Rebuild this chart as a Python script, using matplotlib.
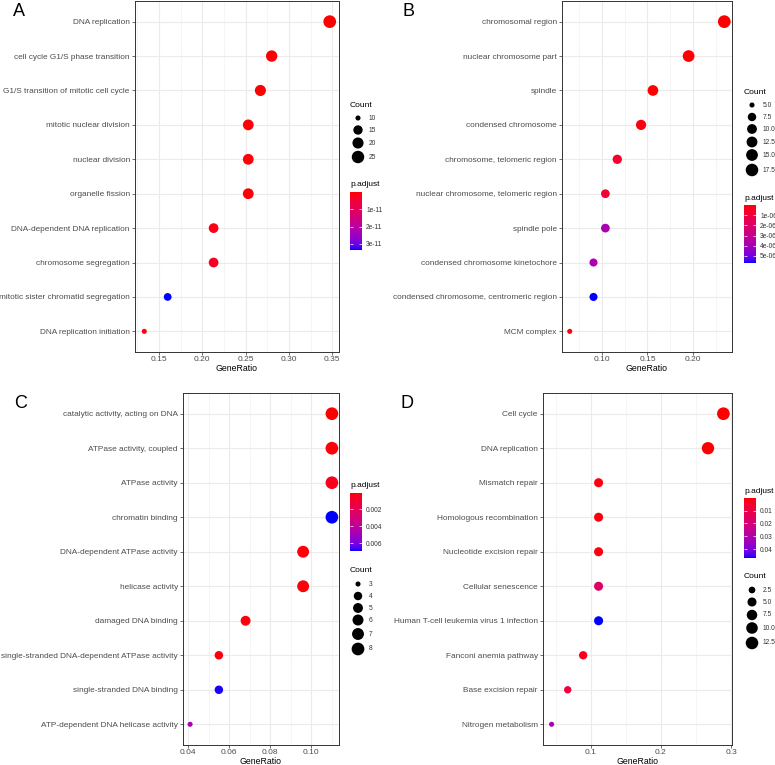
import numpy as np
import matplotlib
matplotlib.use("Agg")
import matplotlib.pyplot as plt
from matplotlib.colors import LinearSegmentedColormap, to_rgb
from matplotlib.ticker import AutoMinorLocator

plt.rcParams['font.family'] = ['Liberation Sans', 'DejaVu Sans']

# ---- données (de haut en bas) ----
a_terms = ["DNA replication", "cell cycle G1/S phase transition",
           "G1/S transition of mitotic cell cycle", "mitotic nuclear division",
           "nuclear division", "organelle fission", "DNA-dependent DNA replication",
           "chromosome segregation", "mitotic sister chromatid segregation",
           "DNA replication initiation"]
a_ratio = [0.347, 0.280, 0.267, 0.253, 0.253, 0.253, 0.213, 0.213, 0.160, 0.133]
a_count = [26, 21, 20, 19, 19, 19, 16, 16, 12, 10]
a_padj = [1e-14, 1.5e-13, 2e-13, 5e-13, 5e-13, 5e-13, 1.2e-12, 2.8e-12, 3.35e-11, 8e-13]

b_terms = ["chromosomal region", "nuclear chromosome part", "spindle",
           "condensed chromosome", "chromosome, telomeric region",
           "nuclear chromosome, telomeric region", "spindle pole",
           "condensed chromosome kinetochore",
           "condensed chromosome, centromeric region", "MCM complex"]
b_ratio = [0.234, 0.195, 0.156, 0.143, 0.117, 0.104, 0.104, 0.091, 0.091, 0.065]
b_count = [18, 15, 12, 11, 9, 8, 8, 7, 7, 5]
b_padj = [1e-10, 5e-10, 1e-8, 2e-7, 6e-7, 8e-7, 3.9e-6, 3.8e-6, 5.7e-6, 1e-7]

c_terms = ["catalytic activity, acting on DNA", "ATPase activity, coupled",
           "ATPase activity", "chromatin binding", "DNA-dependent ATPase activity",
           "helicase activity", "damaged DNA binding",
           "single-stranded DNA-dependent ATPase activity",
           "single-stranded DNA binding", "ATP-dependent DNA helicase activity"]
c_ratio = [0.110, 0.110, 0.110, 0.110, 0.096, 0.096, 0.068, 0.055, 0.055, 0.041]
c_count = [8, 8, 8, 8, 7, 7, 5, 4, 4, 3]
c_padj = [0.00012, 0.0002, 0.0005, 0.0069, 0.0002, 0.0002, 0.0003, 0.0003, 0.0068, 0.0048]

d_terms = ["Cell cycle", "DNA replication", "Mismatch repair",
           "Homologous recombination", "Nucleotide excision repair",
           "Cellular senescence", "Human T-cell leukemia virus 1 infection",
           "Fanconi anemia pathway", "Base excision repair", "Nitrogen metabolism"]
d_ratio = [0.289, 0.267, 0.111, 0.111, 0.111, 0.111, 0.111, 0.089, 0.067, 0.044]
d_count = [13, 12, 5, 5, 5, 5, 5, 4, 3, 2]
d_padj = [0.0001, 0.0003, 0.0012, 0.0012, 0.0012, 0.016, 0.047, 0.003, 0.008, 0.033]

# graduations
a_xticks = [0.15, 0.20, 0.25, 0.30, 0.35]
b_xticks = [0.10, 0.15, 0.20]
c_xticks = [0.04, 0.06, 0.08, 0.10]
d_xticks = [0.1, 0.2, 0.3]
a_xlabels = ["0.15", "0.20", "0.25", "0.30", "0.35"]
b_xlabels = ["0.10", "0.15", "0.20"]
c_xlabels = ["0.04", "0.06", "0.08", "0.10"]
d_xlabels = ["0.1", "0.2", "0.3"]

a_pticks, a_plabels = [1e-11, 2e-11, 3e-11], ["1e-11", "2e-11", "3e-11"]
b_pticks, b_plabels = [1e-6, 2e-6, 3e-6, 4e-6, 5e-6], ["1e-06", "2e-06", "3e-06", "4e-06", "5e-06"]
c_pticks, c_plabels = [0.002, 0.004, 0.006], ["0.002", "0.004", "0.006"]
d_pticks, d_plabels = [0.01, 0.02, 0.03, 0.04], ["0.01", "0.02", "0.03", "0.04"]

a_cbreaks, a_clabels = [10, 15, 20, 25], ["10", "15", "20", "25"]
b_cbreaks, b_clabels = [5, 7.5, 10, 12.5, 15, 17.5], ["5.0", "7.5", "10.0", "12.5", "15.0", "17.5"]
c_cbreaks, c_clabels = [3, 4, 5, 6, 7, 8], ["3", "4", "5", "6", "7", "8"]
d_cbreaks, d_clabels = [2.5, 5, 7.5, 10, 12.5], ["2.5", "5.0", "7.5", "10.0", "12.5"]

# ---- dégradé rouge -> bleu interpolé en Lab (comme ggplot) ----
M = np.array([[0.4124, 0.3576, 0.1805], [0.2126, 0.7152, 0.0722], [0.0193, 0.1192, 0.9505]])
WHITE = np.array([0.95047, 1.0, 1.08883])

def to_lab(c):
    rgb = np.array(to_rgb(c))
    lin = np.where(rgb <= 0.04045, rgb / 12.92, ((rgb + 0.055) / 1.055) ** 2.4)
    xyz = M @ lin / WHITE
    f = np.where(xyz > 0.008856, np.cbrt(xyz), 7.787 * xyz + 16 / 116)
    return np.array([116 * f[1] - 16, 500 * (f[0] - f[1]), 200 * (f[1] - f[2])])

def from_lab(lab):
    fy = (lab[0] + 16) / 116
    f = np.array([fy + lab[1] / 500, fy, fy - lab[2] / 200])
    xyz = np.where(f ** 3 > 0.008856, f ** 3, (f - 16 / 116) / 7.787) * WHITE
    lin = np.clip(np.linalg.solve(M, xyz), 0, 1)
    return np.clip(np.where(lin <= 0.0031308, 12.92 * lin, 1.055 * lin ** (1 / 2.4) - 0.055), 0, 1)

lo, hi = to_lab("red"), to_lab("blue")
cmap = LinearSegmentedColormap.from_list("padj", [from_lab(lo + (hi - lo) * t) for t in np.linspace(0, 1, 40)])

def dot_size(c, cmin, cmax):
    t = (np.asarray(c, float) - cmin) / (cmax - cmin)
    size = 3 + 5 * np.sqrt(np.clip(t, 0, 1))
    d_px = 0.536 * (2.845 * size + 0.94)
    return (d_px * 0.72) ** 2

W, H = 775, 765
fig = plt.figure(figsize=(W / 100, H / 100), dpi=100)

def px_rect(x0, y0, x1, y1):
    return [x0 / W, 1 - y1 / H, (x1 - x0) / W, (y1 - y0) / H]

GREY30 = "#4D4D4D"

def dot_panel(box, terms, ratio, count, padj, xticks, xlabels):
    ax = fig.add_axes(px_rect(*box))
    n = len(terms)
    y = np.arange(n)[::-1]
    ax.scatter(ratio, y, s=dot_size(count, min(count), max(count)), c=padj,
               cmap=cmap, vmin=min(padj), vmax=max(padj), edgecolors="none", zorder=3)
    pad = 0.05 * (max(ratio) - min(ratio))
    ax.set_xlim(min(ratio) - pad, max(ratio) + pad)
    ax.set_ylim(-0.6, n - 0.4)
    ax.set_yticks(y)
    ax.set_yticklabels(terms, fontsize=5.95, color=GREY30)
    ax.set_xticks(xticks)
    ax.set_xticklabels(xlabels, fontsize=6.0, color=GREY30)
    ax.xaxis.set_minor_locator(AutoMinorLocator(2))
    ax.tick_params(which="major", length=2.2, width=0.5, color="#333333", pad=1.5)
    ax.tick_params(axis="x", which="major", pad=0.8)
    ax.tick_params(which="minor", length=0)
    ax.grid(which="major", color="#EBEBEB", linewidth=0.8, zorder=0)
    ax.grid(which="minor", axis="x", color="#F2F2F2", linewidth=0.5, zorder=0)
    ax.set_axisbelow(True)
    for sp in ax.spines.values():
        sp.set_color("#333333")
        sp.set_linewidth(0.7)
    ax.set_xlabel("GeneRatio", fontsize=6.3, labelpad=0.3)
    return ax

def size_legend(ov, x, ytitle, ys, breaks, labels, count):
    ov.text(x, ytitle, "Count", fontsize=6.1, va="center", ha="left")
    ov.scatter([x + 8] * len(breaks), ys, s=dot_size(breaks, min(count), max(count)),
               color="black", edgecolors="none")
    for yy, lab in zip(ys, labels):
        ov.text(x + 19, yy, lab, fontsize=4.8, va="center", ha="left", color="#333333")

def color_legend(ov, x, ytitle, box, padj, pticks, plabels):
    ov.text(x, ytitle, "p.adjust", fontsize=6.0, va="center", ha="left")
    cax = fig.add_axes(px_rect(*box))
    vmin, vmax = min(padj), max(padj)
    grad = np.linspace(vmin, vmax, 200).reshape(-1, 1)
    cax.imshow(grad, aspect="auto", cmap=cmap, vmin=vmin, vmax=vmax,
               extent=[0, 1, vmax, vmin], interpolation="bilinear")
    cax.set_ylim(vmax, vmin)
    cax.set_xticks([])
    cax.set_yticks(pticks)
    cax.set_yticklabels(plabels, fontsize=4.8, color="#333333")
    cax.tick_params(axis="y", direction="in", length=2, width=0.5, color="white",
                    left=True, right=True, labelleft=False, labelright=True, pad=3)
    for sp in cax.spines.values():
        sp.set_visible(False)

dot_panel((135, 1, 339, 352), a_terms, a_ratio, a_count, a_padj, a_xticks, a_xlabels)
dot_panel((562, 1, 732, 352), b_terms, b_ratio, b_count, b_padj, b_xticks, b_xlabels)
dot_panel((183, 393, 339, 745), c_terms, c_ratio, c_count, c_padj, c_xticks, c_xlabels)
dot_panel((543, 393, 732, 745), d_terms, d_ratio, d_count, d_padj, d_xticks, d_xlabels)

# calque en coordonnées pixels pour les légendes et les lettres
ov = fig.add_axes([0, 0, 1, 1], zorder=5)
ov.set_xlim(0, W)
ov.set_ylim(H, 0)
ov.axis("off")
ov.patch.set_alpha(0)

size_legend(ov, 350, 105, [118, 130, 143, 157], a_cbreaks, a_clabels, a_count)
color_legend(ov, 350, 184, (350, 192, 362, 250), a_padj, a_pticks, a_plabels)

size_legend(ov, 744, 92, [105, 117, 129, 142, 155, 170], b_cbreaks, b_clabels, b_count)
color_legend(ov, 744, 198, (744, 205, 756, 263), b_padj, b_pticks, b_plabels)

color_legend(ov, 350, 485, (350, 493, 362, 551), c_padj, c_pticks, c_plabels)
size_legend(ov, 350, 571, [584, 596, 608, 620, 634, 649], c_cbreaks, c_clabels, c_count)

color_legend(ov, 744, 491, (744, 498, 756, 558), d_padj, d_pticks, d_plabels)
size_legend(ov, 744, 577, [590, 602, 615, 628, 643], d_cbreaks, d_clabels, d_count)

for lab, (x, y) in zip("ABCD", [(13, 11), (403, 11), (14, 403), (400, 403)]):
    ov.text(x, y, lab, fontsize=13, va="center", ha="left")

fig.savefig("out.png", dpi=100)
